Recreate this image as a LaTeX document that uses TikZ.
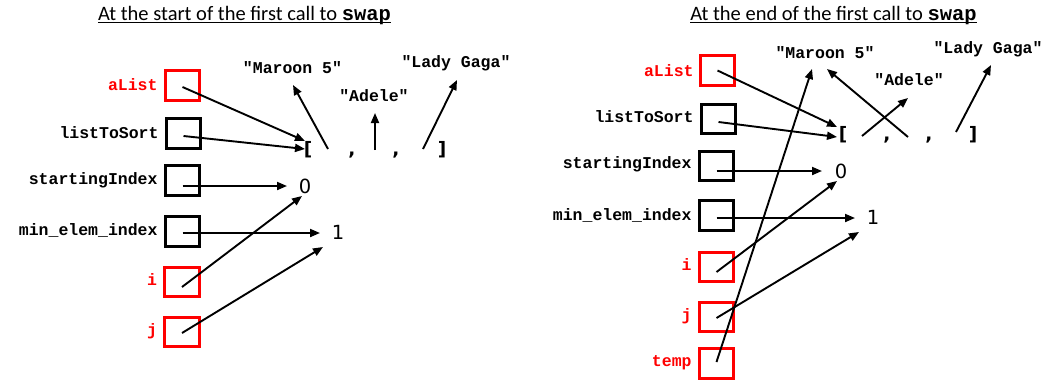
\documentclass[tikz,border=0pt]{standalone}
\usepackage{fontspec}
\setmainfont{Carlito}
\newfontfamily\cb{Liberation Mono}
\newfontfamily\dv{DejaVu Sans}
\usetikzlibrary{arrows.meta}
\begin{document}
\begin{tikzpicture}[x=1pt,y=-1pt,
  varbox/.style={draw, line width=3pt, minimum width=34.5pt, minimum height=29.5pt, inner sep=0pt},
  hot/.style={varbox, draw=red},
  cold/.style={varbox, draw=black},
  lbl/.style={font=\cb\bfseries\fontsize{16.5}{18}\selectfont, inner sep=0pt, anchor=base east},
  hotlbl/.style={lbl, text=red},
  str/.style={font=\cb\bfseries\fontsize{16.5}{18}\selectfont, inner sep=0pt, anchor=base},
  brk/.style={font=\dv\bfseries\fontsize{18.5}{22}\selectfont, inner sep=0pt, anchor=base},
  num/.style={font=\dv\fontsize{19.5}{22}\selectfont, inner sep=0pt, anchor=base},
  heading/.style={font=\fontsize{20.5}{24}\selectfont, inner sep=0pt, anchor=base},
  ptr/.style={line width=1.9pt, -{Triangle[length=10pt,width=8pt]}},
]
\fill[white] (0,0) rectangle (1046,381);
\useasboundingbox (0,0) rectangle (1046,381);

% ---------- headings ----------
\node[heading] (t1) at (244.5,20) {At the start of the first call to {\cb\bfseries swap}};
\draw[line width=1.4pt] ([yshift=-2.5pt]t1.base west) -- ([yshift=-2.5pt]t1.base east);
\node[heading] (t2) at (833.5,20) {At the end of the first call to {\cb\bfseries swap}};
\draw[line width=1.4pt] ([yshift=-2.5pt]t2.base west) -- ([yshift=-2.5pt]t2.base east);

% ---------- first frame: variables ----------
\node[hot]  (aL)  at (182.5,85.5) {};
\node[cold] (lsL) at (183.5,133.5) {};
\node[cold] (siL) at (182.5,180.5) {};
\node[cold] (meL) at (182.5,231.5) {};
\node[hot]  (iL)  at (182,282) {};
\node[hot]  (jL)  at (182,332) {};

\node[hotlbl] (aLl)  at ([xshift=-6pt,yshift=-5pt]aL.west)  {aList};
\node[lbl]    (lsLl) at ([xshift=-6pt,yshift=-4.5pt]lsL.west) {listToSort};
\node[lbl]    (siLl) at ([xshift=-6pt,yshift=-3.5pt]siL.west) {startingIndex};
\node[lbl]    (meLl) at ([xshift=-6pt,yshift=-3.5pt]meL.west) {min\_elem\_index};
\node[hotlbl] (iLl)  at ([xshift=-6pt,yshift=-3pt]iL.west)  {i};
\node[hotlbl] (jLl)  at ([xshift=-6pt,yshift=-3pt]jL.west)  {j};

% ---------- first frame: values ----------
\node[brk] (obL) at (308,155.5) {[};
\node[brk] (c1L) at (352,155.5) {,};
\node[brk] (c2L) at (396,155.5) {,};
\node[brk] (cbL) at (442,155.5) {]};
\node[num] (zL)  at (305,193) {0};
\node[num] (oL)  at (338,239) {1};
\node[str] (m5L) at (292.5,73) {"Maroon 5"};
\node[str] (adL) at (374,101) {"Adele"};
\node[str] (lgL) at (456,67) {"Lady Gaga"};

\coordinate (obLa) at (305,141);
\coordinate (obLb) at (305,149);
\coordinate (s1L) at (328,149);
\coordinate (s2L) at (375,150);
\coordinate (s3L) at (423,149);
\coordinate (m5La) at (293,85);
\coordinate (adLa) at (375,113);
\coordinate (lgLa) at (457,80);
\coordinate (zLa) at (287,186);
\coordinate (zLb) at (302,196);
\coordinate (oLa) at (320,233);
\coordinate (oLb) at (323,247);

\draw[ptr] ([yshift=-1.5pt]aL.center) -- (obLa);
\draw[ptr] ([yshift=-2.5pt]lsL.center) -- (obLb);
\draw[ptr] (siL.center |- zLa) -- (zLa);
\draw[ptr] (meL.center |- oLa) -- (oLa);
\draw[ptr] ([yshift=-5pt]iL.center) -- (zLb);
\draw[ptr] ([yshift=-1pt]jL.center) -- (oLb);
\draw[ptr] (s1L) -- (m5La);
\draw[ptr] (s2L) -- (adLa);
\draw[ptr] (s3L) -- (lgLa);

% ---------- second frame: variables ----------
\node[hot]  (aR)  at (717.5,70.5) {};
\node[cold] (lsR) at (718.5,119) {};
\node[cold] (siR) at (716.5,166) {};
\node[cold] (meR) at (716.5,215.5) {};
\node[hot]  (iR)  at (716.5,267) {};
\node[hot]  (jR)  at (716.5,317) {};
\node[hot]  (tR)  at (716.5,363.5) {};

\node[hotlbl] (aRl)  at ([xshift=-5pt,yshift=-5.5pt]aR.west)  {aList};
\node[lbl]    (lsRl) at ([xshift=-6pt,yshift=-3pt]lsR.west) {listToSort};
\node[lbl]    (siRl) at ([xshift=-6pt,yshift=-2.5pt]siR.west) {startingIndex};
\node[lbl]    (meRl) at ([xshift=-6pt,yshift=-4.5pt]meR.west) {min\_elem\_index};
\node[hotlbl] (iRl)  at ([xshift=-6pt,yshift=-3pt]iR.west)  {i};
\node[hotlbl] (jRl)  at ([xshift=-6pt,yshift=-3pt]jR.west)  {j};
\node[hotlbl] (tRl)  at ([xshift=-6pt,yshift=-2.5pt]tR.west) {temp};

% ---------- second frame: values ----------
\node[brk] (obR) at (843,140.5) {[};
\node[brk] (c1R) at (887,140.5) {,};
\node[brk] (c2R) at (929,140.5) {,};
\node[brk] (cbR) at (973,140.5) {]};
\node[num] (zR)  at (841,178) {0};
\node[num] (oR)  at (873,224) {1};
\node[str] (m5R) at (825,58) {"Maroon 5"};
\node[str] (adR) at (909,85) {"Adele"};
\node[str] (lgR) at (988,53) {"Lady Gaga"};

\coordinate (obRa) at (837,127);
\coordinate (obRb) at (837,137);
\coordinate (s1R) at (862,136);
\coordinate (s2R) at (908,137);
\coordinate (s3R) at (956,132);
\coordinate (m5Ra) at (827,69);
\coordinate (m5Rb) at (812,69);
\coordinate (adRa) at (908,98);
\coordinate (lgRa) at (991,65);
\coordinate (zRa) at (822,171);
\coordinate (zRb) at (837,181);
\coordinate (oRa) at (855,218);
\coordinate (oRb) at (859,232);

\draw[ptr] (aR.center) -- (obRa);
\draw[ptr] ([yshift=-3pt]lsR.center) -- (obRb);
\draw[ptr] (siR.center |- zRa) -- (zRa);
\draw[ptr] (meR.center |- oRa) -- (oRa);
\draw[ptr] ([yshift=-5pt]iR.center) -- (zRb);
\draw[ptr] ([yshift=-1pt]jR.center) -- (oRb);
\draw[ptr] ([yshift=1.5pt]tR.center) -- (m5Rb);
\draw[ptr] (s1R) -- (adRa);
\draw[ptr] (s2R) -- (m5Ra);
\draw[ptr] (s3R) -- (lgRa);
\end{tikzpicture}
\end{document}
